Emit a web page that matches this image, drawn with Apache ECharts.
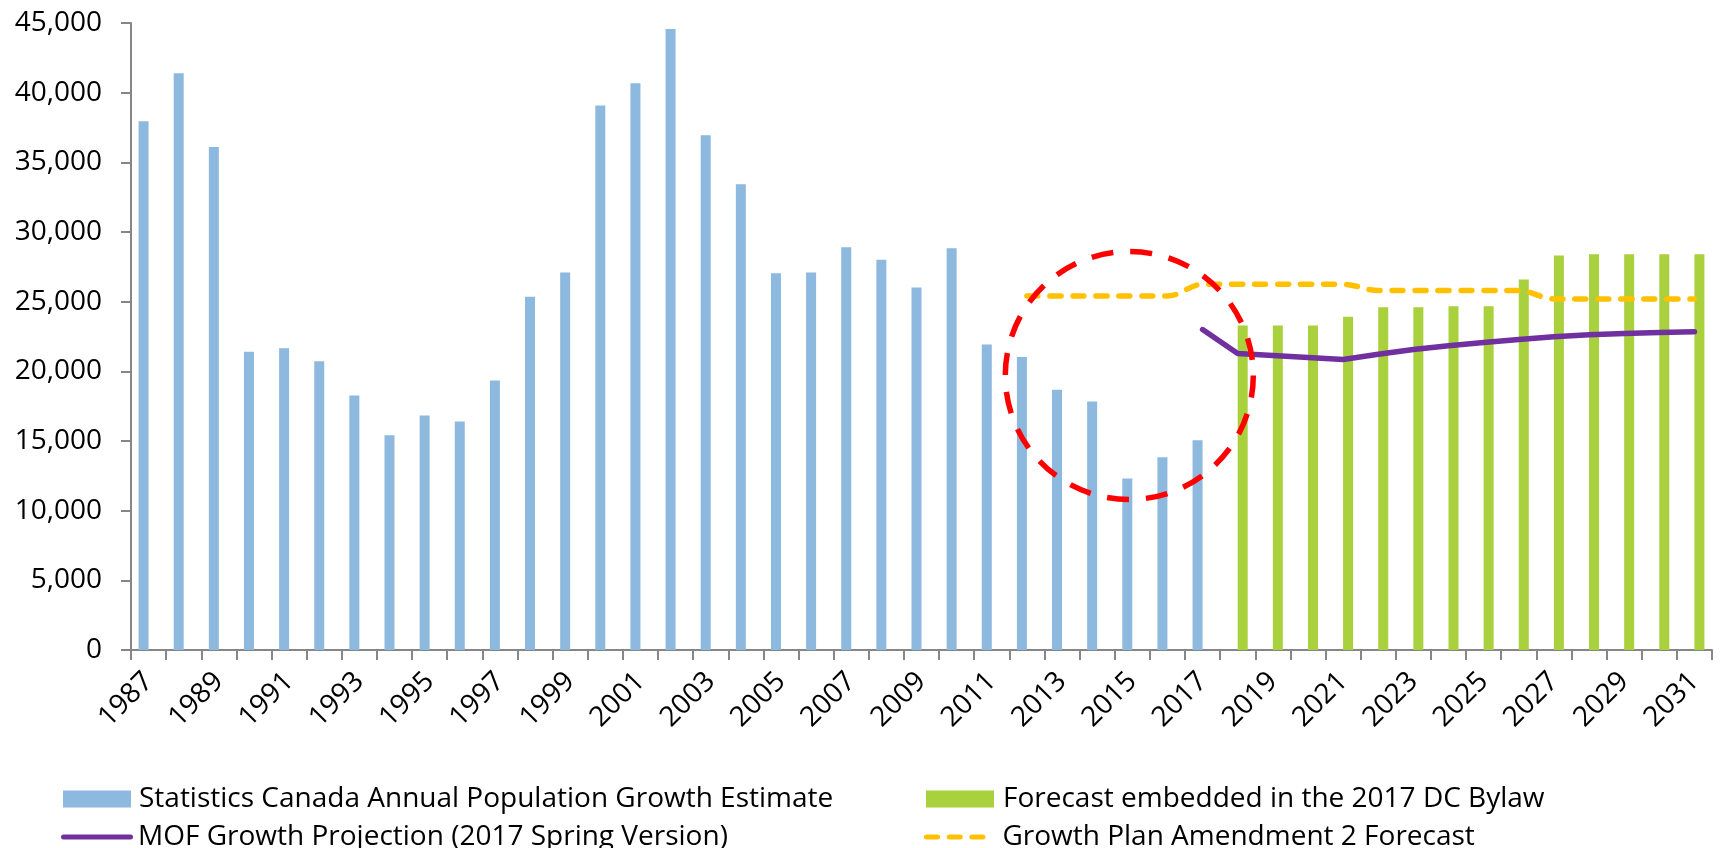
<!DOCTYPE html>
<html>
<head>
<meta charset="utf-8">
<script src="https://cdn.jsdelivr.net/npm/echarts@6/dist/echarts.min.js"></script>
<style>
  html, body { margin: 0; padding: 0; background: #fff; }
  #chart { width: 1721px; height: 848px; }
</style>
</head>
<body>
<div id="chart"></div>
<script>
// categories
var years = ['1987', '1988', '1989', '1990', '1991', '1992', '1993', '1994', '1995', '1996',
  '1997', '1998', '1999', '2000', '2001', '2002', '2003', '2004', '2005', '2006',
  '2007', '2008', '2009', '2010', '2011', '2012', '2013', '2014', '2015', '2016',
  '2017', '2018', '2019', '2020', '2021', '2022', '2023', '2024', '2025', '2026',
  '2027', '2028', '2029', '2030', '2031'];

// Statistics Canada estimate, 1987 - 2017
var statsCanada = [37950, 41400, 36100, 21400, 21650, 20730, 18270, 15420, 16830, 16400,
  19350, 25350, 27090, 39070, 40670, 44570, 36940, 33430, 27040, 27090,
  28910, 28000, 26020, 28840, 21930, 21020, 18680, 17840, 12310, 13840, 15060];

// 2017 DC Bylaw forecast, 2018 - 2031
var dcBylaw = [23290, 23290, 23290, 23910, 24600, 24600, 24680, 24680, 26590, 28310,
  28410, 28410, 28410, 28410];

// MOF projection, 2017 - 2031
var mofProjection = [23000, 21280, 21140, 21000, 20850, 21220, 21560, 21830, 22070, 22290,
  22480, 22620, 22720, 22790, 22840];

// Growth Plan Amendment 2, 2012 - 2031
var growthPlan = [25400, 25400, 25400, 25400, 25400, 26250, 26250, 26250, 26250, 26250,
  25800, 25800, 25800, 25800, 25800, 25200, 25200, 25200, 25200, 25200];

var FONT = 'Open Sans';

// put a series on the year axis starting at firstYear
function place(values, firstYear) {
  var out = years.map(function () { return null; });
  var start = years.indexOf(firstYear);
  for (var i = 0; i < values.length; i++) out[start + i] = values[i];
  return out;
}

// legend icons: a round-capped stroke and three round-capped dashes
var solidIcon = 'path://M2.5,0h67a2.5,2.5 0 0 1 0,5h-67a2.5,2.5 0 0 1 0,-5z';
var dashIcon = 'path://M2.5,0h11a2.5,2.5 0 0 1 0,5h-11a2.5,2.5 0 0 1 0,-5z' +
  'M25.2,0h11a2.5,2.5 0 0 1 0,5h-11a2.5,2.5 0 0 1 0,-5z' +
  'M47.9,0h11a2.5,2.5 0 0 1 0,5h-11a2.5,2.5 0 0 1 0,-5z';

var chart = echarts.init(document.getElementById('chart'));

function legendAt(name, left, top, opts) {
  return {
    data: [{ name: name, icon: opts.icon }],
    left: left, top: top, padding: 0,
    itemWidth: opts.w, itemHeight: opts.h,
    itemStyle: { borderWidth: 0 },
    textStyle: {
      fontFamily: FONT, fontSize: 28, color: '#000', lineHeight: 32,
      padding: [0, 0, 0, opts.gap]
    }
  };
}

chart.setOption({
  animation: false,
  textStyle: { fontFamily: FONT },
  grid: { left: 131, right: 9, top: 23, bottom: 198 },
  legend: [
    legendAt('Statistics Canada Annual Population Growth Estimate', 63, 783, { icon: 'rect', w: 68, h: 17, gap: 3 }),
    legendAt('Forecast embedded in the 2017 DC Bylaw', 926, 783, { icon: 'rect', w: 68, h: 17, gap: 4 }),
    legendAt('MOF Growth Projection (2017 Spring Version)', 61, 821, { icon: solidIcon, w: 72, h: 5, gap: 0 }),
    legendAt('Growth Plan Amendment 2 Forecast', 924, 821, { icon: dashIcon, w: 61.4, h: 5, gap: 12 })
  ],
  xAxis: {
    type: 'category',
    data: years,
    boundaryGap: true,
    axisLine: { lineStyle: { color: '#868686', width: 2 } },
    axisTick: { show: true, interval: 0, length: 10, lineStyle: { color: '#868686', width: 2 } },
    axisLabel: {
      interval: 1, rotate: 45, margin: 27, padding: [38, 0, 0, 0],
      fontFamily: FONT, fontSize: 28, color: '#000'
    },
    splitLine: { show: false }
  },
  yAxis: {
    type: 'value',
    min: 0, max: 45000, interval: 5000,
    axisLine: { show: true, lineStyle: { color: '#868686', width: 2 } },
    axisTick: { show: true, length: 10, lineStyle: { color: '#868686', width: 2 } },
    axisLabel: { margin: 29, fontFamily: FONT, fontSize: 28, color: '#000' },
    splitLine: { show: false }
  },
  series: [
    {
      name: 'Statistics Canada Annual Population Growth Estimate',
      type: 'bar',
      data: place(statsCanada, '1987'),
      barWidth: 10,
      barGap: '0%',
      itemStyle: { color: '#8DB9DE' }
    },
    {
      name: 'Forecast embedded in the 2017 DC Bylaw',
      type: 'bar',
      data: place(dcBylaw, '2018'),
      barWidth: 10,
      barGap: '0%',
      itemStyle: { color: '#A9D03D' }
    },
    {
      name: 'MOF Growth Projection (2017 Spring Version)',
      type: 'line',
      data: place(mofProjection, '2017'),
      symbol: 'none',
      z: 5,
      lineStyle: { color: '#7030A0', width: 5.5, cap: 'round', join: 'round' },
      itemStyle: { color: '#7030A0' }
    },
    {
      name: 'Growth Plan Amendment 2 Forecast',
      type: 'line',
      data: place(growthPlan, '2012'),
      symbol: 'none',
      smooth: 0.35,
      smoothMonotone: 'x',
      z: 4,
      lineStyle: { color: '#FFC000', width: 5.5, type: [11, 12], cap: 'round' },
      itemStyle: { color: '#FFC000' }
    }
  ]
});

// red dashed annotation circle around the 2012-2017 dip
var c = chart.convertToPixel({ gridIndex: 0 }, [28, 19700]);
chart.setOption({
  graphic: [{
    type: 'circle',
    z: 100,
    shape: { cx: c[0] - 3, cy: c[1], r: 124 },
    style: { fill: 'none', stroke: '#FF0000', lineWidth: 5.5, lineDash: [22, 17] }
  }]
});
</script>
</body>
</html>
